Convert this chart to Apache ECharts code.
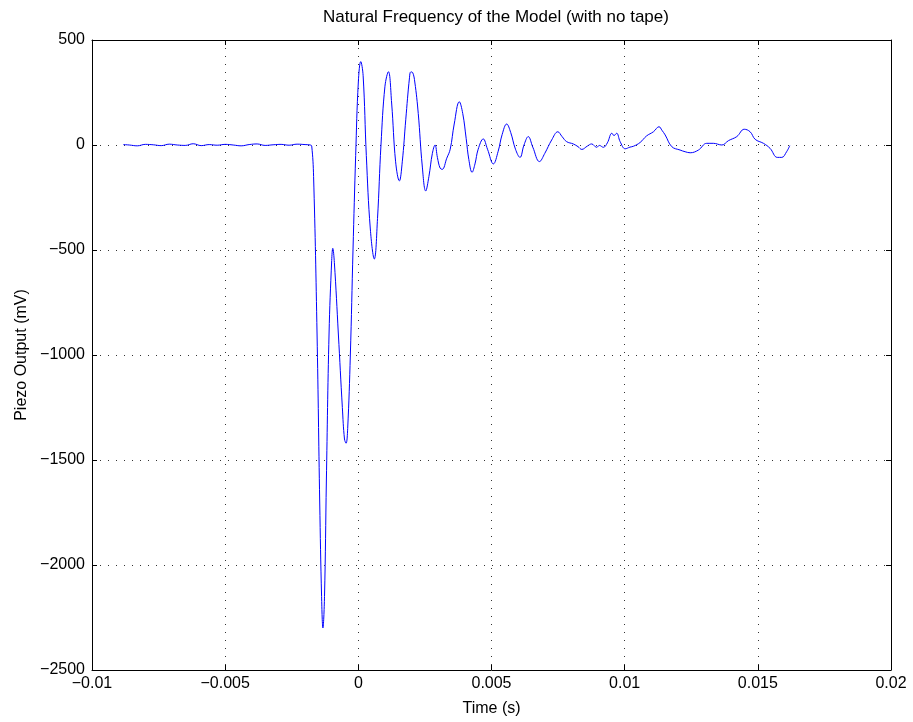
<!DOCTYPE html>
<html lang="en">
<head>
    <meta charset="UTF-8">
    <script src="https://cdn.jsdelivr.net/npm/echarts@6/dist/echarts.min.js"></script>
    <title>Natural Frequency of the Model</title>
</head>
<body style="margin: 0; background: #fff">
<div id="container" style="width: 913px; height: 722px"></div>

<script>
    // time in ms (converted to s below), piezo output in mV
    var timeMs = [
        -8.82, -8.6, -8.3, -8.0, -7.7, -7.4, -7.1, -6.8, -6.5, -6.2, -5.9, -5.6, -5.3,
        -5.0, -4.7, -4.4, -4.1, -3.8, -3.5, -3.2, -2.9, -2.6, -2.3, -2.0, -1.8, -1.75,
        -1.68, -1.55, -1.45, -1.38, -1.33, -1.27, -1.2, -1.1, -1.0, -0.96, -0.9, -0.75,
        -0.6, -0.52, -0.46, -0.4, -0.3, -0.2, -0.1, 0.0, 0.09, 0.18, 0.3, 0.45, 0.6,
        0.72, 0.85, 1.0, 1.13, 1.25, 1.4, 1.54, 1.65, 1.78, 1.92, 1.97, 2.04, 2.12, 2.25, 2.4,
        2.53, 2.65, 2.78, 2.88, 2.97, 3.07, 3.15, 3.32, 3.45, 3.6, 3.79, 3.92, 4.05,
        4.15, 4.27, 4.38, 4.5, 4.69, 4.85, 5.07, 5.25, 5.4, 5.57, 5.72, 5.9, 6.07, 6.22,
        6.38, 6.55, 6.8, 7.0, 7.26, 7.49, 7.65, 7.82, 8.07, 8.25, 8.39, 8.6, 8.76, 8.95, 9.05,
        9.2, 9.35, 9.52, 9.6, 9.7, 9.83, 10.02, 10.2, 10.33, 10.58, 10.82, 11.08, 11.29, 11.4,
        11.52, 11.77, 12.08, 12.27, 12.46, 12.77, 13.08, 13.33, 13.65, 13.9, 14.21,
        14.49, 14.71, 14.9, 15.21, 15.46, 15.73, 15.9, 16.08, 16.2
    ];
    var piezoMv = [
        2, 0, -4, 3, 1, -3, 4, 0, -2, 6, -3, 2, -1,
        3, 0, -4, 2, 5, -2, 1, 3, -1, 4, 2, 0, -5,
        -150, -900, -1700, -2150, -2300, -2150, -1600, -900, -550, -492, -560, -900,
        -1250, -1400, -1420, -1350, -1000, -500, -50, 300, 397, 330, -50, -400, -543,
        -350, 0, 280, 349, 200, -80, -171, -80, 120, 320, 348, 345, 300, 150, -100,
        -219, -150, -40, 0, -60, -110, -116, -63, -20, 100, 206, 150, 30,
        -70, -130, -90, -20, 29, -20, -90, -30, 50, 100, 60, -20, -59, 0,
        40, -10, -79, -40, 24, 63, 40, 16, 5, -8, -21, -5, 5, -11, -2,
        -11, 10, 56, 45, 56, 16, -18, -10, -6, 12, 43, 63, 87, 70,
        48, -8, -24, -32, -37, -24, 8, 8, 0, 21, 40,
        75, 63, 27, 8, -16, -59, -59, -32, -3
    ];
    var xTicks = [-0.01, -0.005, 0, 0.005, 0.01, 0.015, 0.02];
    var yTicks = [-2500, -2000, -1500, -1000, -500, 0, 500];

    var points = timeMs.map(function (t, i) {
        return [t / 1000, piezoMv[i]];
    });

    function fmt(v) {
        var s = String(parseFloat(v.toPrecision(6)));
        return s.replace('-', '\u2212');
    }

    var font = 'Liberation Sans, Arial, Helvetica, sans-serif';
    var gridDash = { color: '#333', width: 1, type: [1, 7] };
    var tickSize = 16;

    var myChart = echarts.init(document.getElementById('container'), null, { renderer: 'canvas' });

    var option = {
        animation: false,
        backgroundColor: '#fff',
        title: {
            text: 'Natural Frequency of the Model (with no tape)',
            left: 491, top: 4, textAlign: 'center',
            textStyle: { fontFamily: font, fontSize: 17, fontWeight: 'normal', color: '#000' }
        },
        grid: { left: 92, right: 22, top: 40, bottom: 52 },
        xAxis: [{
            type: 'value',
            min: xTicks[0], max: xTicks[xTicks.length - 1], interval: 0.005,
            name: 'Time (s)', nameLocation: 'middle', nameGap: 31,
            nameTextStyle: { fontFamily: font, fontSize: tickSize, color: '#000' },
            axisLine: { show: true, onZero: false, lineStyle: { color: '#000', width: 1 } },
            axisTick: { show: true, inside: true, length: 5, lineStyle: { color: '#000' } },
            axisLabel: { fontFamily: font, fontSize: tickSize, color: '#000', margin: 6, formatter: fmt, showMinLabel: true, showMaxLabel: true },
            splitLine: { show: true, lineStyle: gridDash }
        }, {
            type: 'value', position: 'top',
            min: xTicks[0], max: xTicks[xTicks.length - 1], interval: 0.005,
            axisLine: { show: true, onZero: false, lineStyle: { color: '#000', width: 1 } },
            axisTick: { show: true, inside: true, length: 5, lineStyle: { color: '#000' } },
            axisLabel: { show: false },
            splitLine: { show: false }
        }],
        yAxis: [{
            type: 'value',
            min: yTicks[0], max: yTicks[yTicks.length - 1], interval: 500,
            name: 'Piezo Output (mV)', nameLocation: 'middle', nameGap: 62, nameRotate: 90,
            nameTextStyle: { fontFamily: font, fontSize: tickSize, color: '#000' },
            axisLine: { show: true, onZero: false, lineStyle: { color: '#000', width: 1 } },
            axisTick: { show: true, inside: true, length: 5, lineStyle: { color: '#000' } },
            axisLabel: { fontFamily: font, fontSize: tickSize, color: '#000', margin: 7, formatter: fmt, showMinLabel: true, showMaxLabel: true },
            splitLine: { show: true, lineStyle: gridDash }
        }, {
            type: 'value', position: 'right',
            min: yTicks[0], max: yTicks[yTicks.length - 1], interval: 500,
            axisLine: { show: true, onZero: false, lineStyle: { color: '#000', width: 1 } },
            axisTick: { show: true, inside: true, length: 5, lineStyle: { color: '#000' } },
            axisLabel: { show: false },
            splitLine: { show: false }
        }],
        series: [{
            type: 'line',
            xAxisIndex: 0, yAxisIndex: 0,
            data: points,
            smooth: 0.4,
            showSymbol: false,
            lineStyle: { color: '#0000ff', width: 1 },
            itemStyle: { color: '#0000ff' }
        }]
    };

    myChart.setOption(option);
</script>
</body>
</html>
